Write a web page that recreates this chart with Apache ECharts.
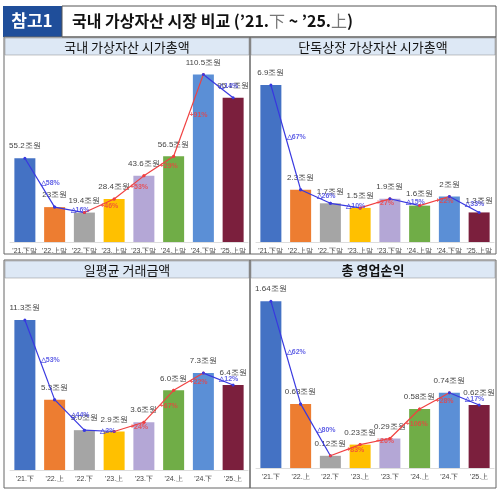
<!DOCTYPE html>
<html>
<head>
<meta charset="utf-8">
<script src="https://cdn.jsdelivr.net/npm/echarts@6/dist/echarts.min.js"></script>
<style>body{margin:0}#main{width:500px;height:490px}</style>
</head>
<body>
<div id="main"></div>
<script>
var catsTop = ["'21.下말", "'22.上말", "'22.下말", "'23.上말", "'23.下말", "'24.上말", "'24.下말", "'25.上말"];
var catsBottom = ["'21.下", "'22.上", "'22.下", "'23.上", "'23.下", "'24.上", "'24.下", "'25.上"];
var marketCap = [55.2, 23, 19.4, 28.4, 43.6, 56.5, 110.5, 95.1];
var marketCapChg = ['△58%', '△16%', '+46%', '+53%', '+29%', '+91%', '△14%'];
var soloCap = [6.9, 2.3, 1.7, 1.5, 1.9, 1.6, 2, 1.3];
var soloCapChg = ['△67%', '△26%', '△10%', '+27%', '△15%', '+22%', '△33%'];
var dailyVol = [11.3, 5.3, 3.0, 2.9, 3.6, 6.0, 7.3, 6.4];
var dailyVolChg = ['△53%', '△44%', '△2%', '+24%', '+67%', '+22%', '△12%'];
var opProfit = [1.64, 0.63, 0.12, 0.23, 0.29, 0.58, 0.74, 0.62];
var opProfitChg = ['△62%', '△80%', '+83%', '+26%', '+106%', '+28%', '△17%'];
var barColors = ['#4472C4', '#ED7D31', '#A5A5A5', '#FFC000', '#B4A7D6', '#70AD47', '#5B8FD6', '#7B1F3D'];

var panels = [
  {title: '국내 가상자산 시가총액', cats: catsTop, vals: marketCap, chg: marketCapChg, fmt: function (v) { return v + '조원'; }, max: 120,
   box: {x: 4, y: 37, w: 246, h: 217}, grid: {left: 10, top: 60, width: 238, height: 182}},
  {title: '단독상장 가상자산 시가총액', cats: catsTop, vals: soloCap, chg: soloCapChg, fmt: function (v) { return v + '조원'; }, max: 8,
   box: {x: 250, y: 37, w: 246, h: 217}, grid: {left: 256, top: 60, width: 238, height: 182}},
  {title: '일평균 거래금액', cats: catsBottom, vals: dailyVol, chg: dailyVolChg, fmt: function (v) { return v.toFixed(1) + '조원'; }, max: 13.56,
   box: {x: 4, y: 260, w: 246, h: 228}, grid: {left: 10, top: 290, width: 238, height: 180}},
  {title: '총 영업손익', cats: catsBottom, vals: opProfit, chg: opProfitChg, fmt: function (v) { return v + '조원'; }, max: 1.75,
   box: {x: 250, y: 260, w: 246, h: 228}, grid: {left: 256, top: 290, width: 238, height: 178}}
];

var grids = [], xAxes = [], yAxes = [], series = [], graphics = [];
graphics.push({type: 'rect', shape: {x: 3, y: 6, width: 59, height: 31}, style: {fill: '#1F4E9A'}});
graphics.push({type: 'text', x: 32, y: 21, style: {text: '참고1', fill: '#fff', font: 'bold 17px "Noto Sans CJK KR"', align: 'center', verticalAlign: 'middle'}});
graphics.push({type: 'rect', shape: {x: 62, y: 6, width: 434, height: 31}, style: {fill: '#fff', stroke: '#555', lineWidth: 1}});
graphics.push({type: 'text', x: 72, y: 21, style: {
  rich: {a: {font: 'bold 16px "Noto Sans CJK KR"', fill: '#111'}, b: {font: '16px "Noto Sans CJK KR"', fill: '#777'}},
  text: '{a|국내 가상자산 시장 비교 (\u201921.}{b|下}{a| ~ \u201925.}{b|上}{a|)}', verticalAlign: 'middle'}});

panels.forEach(function (p, i) {
  graphics.push({type: 'rect', shape: {x: p.box.x, y: p.box.y, width: p.box.w, height: p.box.h}, style: {fill: 'none', stroke: '#666', lineWidth: 1}, z: 10});
  graphics.push({type: 'rect', shape: {x: p.box.x + 1, y: p.box.y + 1, width: p.box.w - 2, height: 17}, style: {fill: '#DDE8F5', stroke: '#888', lineWidth: 0.5}});
  graphics.push({type: 'text', x: p.box.x + p.box.w / 2, y: p.box.y + 10, style: {text: p.title, font: (i == 3 ? 'bold ' : '') + '13px "Noto Sans CJK KR"', fill: '#111', align: 'center', verticalAlign: 'middle'}});
  grids.push(p.grid);
  xAxes.push({type: 'category', gridIndex: i, data: p.cats, axisTick: {show: false},
    axisLine: {lineStyle: {color: '#ddd'}}, axisLabel: {fontSize: 7, color: '#444', margin: 6, interval: 0}});
  xAxes.push({type: 'value', gridIndex: i, min: -0.5, max: 7.5, show: false});
  yAxes.push({type: 'value', gridIndex: i, min: 0, max: p.max, show: false, splitLine: {show: false}});
  series.push({type: 'bar', xAxisIndex: 2 * i, yAxisIndex: i, barWidth: 21,
    data: p.vals.map(function (v, k) { return {value: v, itemStyle: {color: barColors[k]}}; }),
    label: {show: true, position: 'top', distance: 8, fontSize: 8, color: '#444', formatter: function (d) { return p.fmt(d.value); }}});
  for (var k = 0; k < p.vals.length - 1; k++) {
    var up = p.vals[k + 1] > p.vals[k];
    var col = up ? '#F04040' : '#3838E0';
    series.push({type: 'line', xAxisIndex: 2 * i + 1, yAxisIndex: i, data: [[k, p.vals[k]], [k + 1, p.vals[k + 1]]],
      symbol: 'circle', symbolSize: 3, lineStyle: {color: col, width: 1.2}, itemStyle: {color: col}, z: 5});
    series.push({type: 'scatter', xAxisIndex: 2 * i + 1, yAxisIndex: i, symbolSize: 0, z: 6,
      data: [[k + 0.5, (p.vals[k] + p.vals[k + 1]) / 2]],
      label: {show: true, formatter: p.chg[k], position: 'right', distance: 1, fontSize: 7, fontWeight: 'bold', color: col}});
  }
});

var chart = echarts.init(document.getElementById('main'));
chart.setOption({
  backgroundColor: '#fff', animation: false,
  grid: grids, xAxis: xAxes, yAxis: yAxes, series: series, graphic: graphics
});
</script>
</body>
</html>
